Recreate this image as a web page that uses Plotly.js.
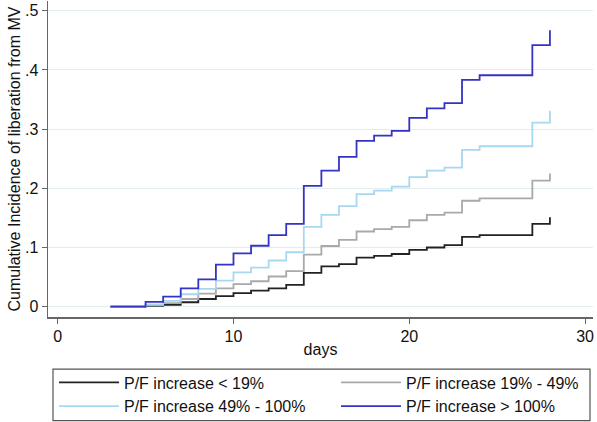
<!DOCTYPE html>
<html>
<head>
<meta charset="utf-8">
<script src="https://cdn.plot.ly/plotly-3.0.1.min.js"></script>
<style>html,body{margin:0;padding:0;background:#fff;}#chart{width:597px;height:422px;}</style>
</head>
<body>
<div id="chart"></div>
<script>
var days = [3,5,6,7,8,9,10,11,12,13,14,15,16,17,18,19,20,21,22,23,24,27,28];
var seriesNames = ["P/F increase < 19%", "P/F increase 19% - 49%", "P/F increase 49% - 100%", "P/F increase > 100%"];
var below19 = [0,0.001,0.003,0.0075,0.013,0.018,0.023,0.027,0.031,0.037,0.057,0.068,0.072,0.083,0.086,0.089,0.096,0.100,0.104,0.118,0.121,0.140,0.151];
var from19to49 = [0,0.002,0.006,0.013,0.022,0.031,0.038,0.043,0.051,0.060,0.088,0.1025,0.113,0.127,0.131,0.135,0.146,0.155,0.159,0.179,0.183,0.213,0.225];
var from49to100 = [0,0.004,0.010,0.021,0.030,0.044,0.058,0.066,0.078,0.092,0.135,0.155,0.170,0.190,0.196,0.203,0.219,0.230,0.235,0.265,0.271,0.311,0.331];
var above100 = [0,0.008,0.017,0.031,0.046,0.071,0.090,0.103,0.121,0.140,0.204,0.230,0.253,0.280,0.289,0.297,0.319,0.335,0.344,0.383,0.391,0.442,0.467];
var yTickVals = [0,0.1,0.2,0.3,0.4,0.5];
var yTickText = ["0",".1",".2",".3",".4",".5"];
var xTickVals = [0,10,20,30];

var colors = ["#222222", "#a9a9a9", "#a8d8ef", "#3434c4"];
var legendFor = ["legend", "legend2", "legend", "legend2"];
var values = [below19, from19to49, from49to100, above100];
var traces = values.map(function(v, i){
  return {x: days, y: v, name: seriesNames[i], type: "scatter", mode: "lines",
          legend: legendFor[i],
          line: {shape: "hv", color: colors[i], width: 1.8}};
});

var legendBase = {
  orientation: "v", xref: "paper", yref: "container", xanchor: "left", yanchor: "top",
  y: 0.1339, borderwidth: 0, bgcolor: "rgba(0,0,0,0)", itemwidth: 60,
  font: {size: 16}, traceorder: "normal", tracegroupgap: 0
};

var layout = {
  width: 597, height: 422,
  margin: {l: 48, r: 4, t: 1, b: 105},
  paper_bgcolor: "#ffffff", plot_bgcolor: "#ffffff",
  font: {family: "Liberation Sans, Arial, sans-serif", size: 16, color: "#111"},
  xaxis: {range: [-0.55, 30.45], tickvals: xTickVals, ticks: "outside", ticklen: 5, tickcolor: "#666",
          showline: true, linecolor: "#666", linewidth: 1.5, showgrid: false, zeroline: false,
          automargin: true, ticklabeloverflow: "allow", ticklabelstandoff: -1,
          title: {text: "days", font: {size: 16}, standoff: 0}},
  yaxis: {range: [-0.0174, 0.5164], tickvals: yTickVals, ticktext: yTickText, ticks: "outside", ticklen: 5, tickcolor: "#666",
          showline: true, linecolor: "#666", linewidth: 1.5, gridcolor: "#e2edf0", gridwidth: 1, zeroline: false,
          automargin: true, ticklabeloverflow: "allow",
          title: {text: "Cumulative Incidence of liberation from MV", font: {size: 16}, standoff: 0}},
  showlegend: true,
  legend: Object.assign({}, legendBase, {x: 0.011}),
  legend2: Object.assign({}, legendBase, {x: 0.5284}),
  shapes: [{type: "rect", xref: "paper", yref: "paper", x0: 0.00917, x1: 0.9945, y0: -0.3279, y1: -0.1651,
            line: {color: "#555", width: 1.2}, fillcolor: "rgba(0,0,0,0)", layer: "below"}]
};
Plotly.newPlot("chart", traces, layout, {staticPlot: true, displayModeBar: false});
</script>
</body>
</html>
